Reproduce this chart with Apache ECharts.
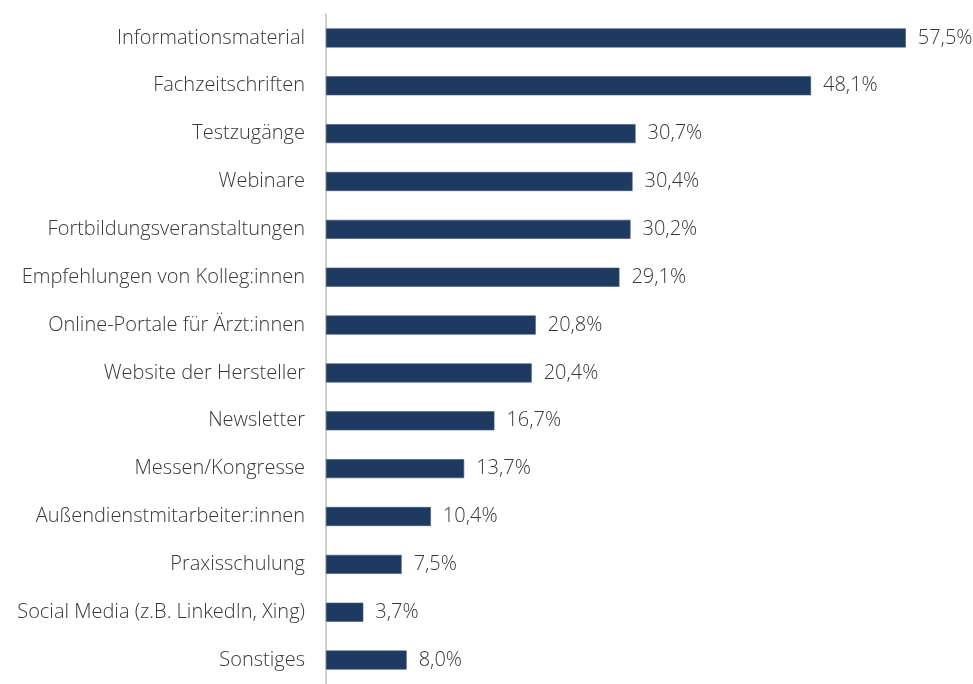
<!DOCTYPE html>
<html>
<head>
<meta charset="utf-8">
<script src="https://cdn.jsdelivr.net/npm/echarts@6/dist/echarts.min.js"></script>
<style>
  html, body { margin: 0; padding: 0; background: #ffffff; }
  #chart { width: 973px; height: 684px; }
</style>
</head>
<body>
<div id="chart"></div>
<script>
// Informationsquellen, Anteil in Prozent (von oben nach unten)
const categories = [
  'Informationsmaterial',
  'Fachzeitschriften',
  'Testzugänge',
  'Webinare',
  'Fortbildungsveranstaltungen',
  'Empfehlungen von Kolleg:innen',
  'Online-Portale für Ärzt:innen',
  'Website der Hersteller',
  'Newsletter',
  'Messen/Kongresse',
  'Außendienstmitarbeiter:innen',
  'Praxisschulung',
  'Social Media (z.B. LinkedIn, Xing)',
  'Sonstiges'
];
const values = [57.5, 48.1, 30.7, 30.4, 30.2, 29.1, 20.8, 20.4, 16.7, 13.7, 10.4, 7.5, 3.7, 8.0];

const fontFamily = '"Open Sans", Roboto, sans-serif';
const chart = echarts.init(document.getElementById('chart'), null, { renderer: 'canvas' });

chart.setOption({
  animation: false,
  grid: { left: 326, top: 14, width: 605, height: 679.6, containLabel: false },
  xAxis: {
    type: 'value',
    min: 0,
    max: 60,
    show: false
  },
  yAxis: {
    type: 'category',
    inverse: true,
    data: categories,
    axisLine: { show: true, lineStyle: { color: '#bfbfbf', width: 1.5 } },
    axisTick: { show: false },
    axisLabel: {
      margin: 21,
      color: '#383838',
      fontSize: 20,
      fontWeight: 300,
      fontFamily: fontFamily,
      padding: [3, 0, 0, 0]
    }
  },
  series: [{
    type: 'bar',
    data: values,
    barWidth: 19,
    itemStyle: { color: '#1f3a60', borderColor: '#3a5579', borderWidth: 0.6 },
    label: {
      show: true,
      position: 'right',
      distance: 12,
      color: '#383838',
      fontSize: 20,
      fontWeight: 300,
      fontFamily: fontFamily,
      padding: [3, 0, 0, 0],
      formatter: p => p.value.toFixed(1).replace('.', ',') + '%'
    }
  }]
});
</script>
</body>
</html>
